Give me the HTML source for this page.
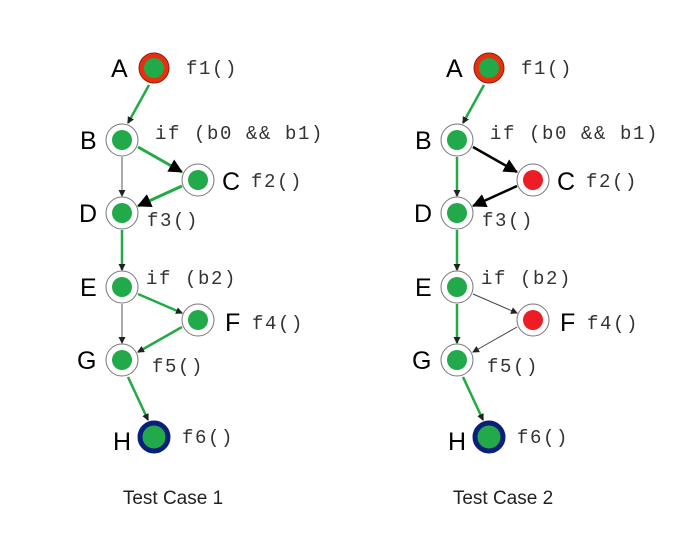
<!DOCTYPE html>
<html><head><meta charset="utf-8"><style>body{margin:0;background:#fff}</style></head><body>
<svg width="687" height="532" xmlns="http://www.w3.org/2000/svg">
<defs>
<marker id="s" markerWidth="7" markerHeight="7" refX="6" refY="3.5" orient="auto" markerUnits="userSpaceOnUse"><path d="M0,0 L7,3.5 L0,7 z" fill="#222"/></marker>
<marker id="K" markerWidth="14" markerHeight="14" refX="13" refY="7" orient="auto" markerUnits="userSpaceOnUse"><path d="M0,0 L14,7 L0,14 z" fill="#000"/></marker>
</defs>
<g font-family="Liberation Mono, monospace" font-size="19" letter-spacing="1.6" fill="#333">
<line x1="149" y1="85" x2="128" y2="123" stroke="#22aa44" stroke-width="2.5" marker-end="url(#s)"/>
<line x1="122" y1="157" x2="122" y2="196" stroke="#555" stroke-width="1" marker-end="url(#s)"/>
<line x1="138" y1="147" x2="182" y2="172" stroke="#22aa44" stroke-width="3" marker-end="url(#K)"/>
<line x1="182" y1="186" x2="138" y2="206" stroke="#22aa44" stroke-width="3" marker-end="url(#K)"/>
<line x1="122" y1="230" x2="122" y2="270" stroke="#22aa44" stroke-width="2.5" marker-end="url(#s)"/>
<line x1="122" y1="304" x2="122" y2="343" stroke="#555" stroke-width="1" marker-end="url(#s)"/>
<line x1="138" y1="294" x2="182" y2="313" stroke="#22aa44" stroke-width="2.5" marker-end="url(#s)"/>
<line x1="182" y1="327" x2="138" y2="352" stroke="#22aa44" stroke-width="2.5" marker-end="url(#s)"/>
<line x1="128" y1="377" x2="148" y2="420" stroke="#22aa44" stroke-width="2.5" marker-end="url(#s)"/>
<circle cx="154" cy="68" r="15" fill="#e8300f" stroke="#8a2010" stroke-width="1"/><circle cx="154" cy="68" r="10" fill="#22aa4a"/>
<circle cx="122" cy="140" r="16" fill="#fff" stroke="#777"/><circle cx="122" cy="140" r="10" fill="#22aa4a"/>
<circle cx="198" cy="180" r="16" fill="#fff" stroke="#777"/><circle cx="198" cy="180" r="10" fill="#22aa4a"/>
<circle cx="122" cy="213" r="16" fill="#fff" stroke="#777"/><circle cx="122" cy="213" r="10" fill="#22aa4a"/>
<circle cx="122" cy="287" r="16" fill="#fff" stroke="#777"/><circle cx="122" cy="287" r="10" fill="#22aa4a"/>
<circle cx="198" cy="320" r="16" fill="#fff" stroke="#777"/><circle cx="198" cy="320" r="10" fill="#22aa4a"/>
<circle cx="122" cy="360" r="16" fill="#fff" stroke="#777"/><circle cx="122" cy="360" r="10" fill="#22aa4a"/>
<circle cx="154" cy="437" r="14" fill="#22aa4a" stroke="#0a1f7a" stroke-width="5"/>
<g font-family="Liberation Sans, sans-serif" font-size="25" letter-spacing="0" fill="#000">
<text x="111" y="77">A</text><text x="80" y="149">B</text><text x="222" y="190">C</text><text x="79" y="222">D</text>
<text x="80" y="296">E</text><text x="225" y="331">F</text><text x="77" y="369">G</text><text x="113" y="450">H</text></g>
<text x="186" y="74">f1()</text><text x="155" y="139">if (b0 &amp;&amp; b1)</text><text x="251" y="187">f2()</text>
<text x="147" y="226">f3()</text><text x="146" y="284">if (b2)</text><text x="252" y="329">f4()</text>
<text x="152" y="372">f5()</text><text x="182" y="443">f6()</text>
</g>
<g transform="translate(335,0)" font-family="Liberation Mono, monospace" font-size="19" letter-spacing="1.6" fill="#333">
<line x1="149" y1="85" x2="128" y2="123" stroke="#22aa44" stroke-width="2.5" marker-end="url(#s)"/>
<line x1="122" y1="157" x2="122" y2="196" stroke="#22aa44" stroke-width="2.5" marker-end="url(#s)"/>
<line x1="138" y1="147" x2="182" y2="172" stroke="#000" stroke-width="2.5" marker-end="url(#K)"/>
<line x1="182" y1="186" x2="138" y2="206" stroke="#000" stroke-width="2.5" marker-end="url(#K)"/>
<line x1="122" y1="230" x2="122" y2="270" stroke="#22aa44" stroke-width="2.5" marker-end="url(#s)"/>
<line x1="122" y1="304" x2="122" y2="343" stroke="#22aa44" stroke-width="2.5" marker-end="url(#s)"/>
<line x1="138" y1="294" x2="182" y2="313" stroke="#444" stroke-width="1" marker-end="url(#s)"/>
<line x1="182" y1="327" x2="138" y2="352" stroke="#444" stroke-width="1" marker-end="url(#s)"/>
<line x1="128" y1="377" x2="148" y2="420" stroke="#22aa44" stroke-width="2.5" marker-end="url(#s)"/>
<circle cx="154" cy="68" r="15" fill="#e8300f" stroke="#8a2010" stroke-width="1"/><circle cx="154" cy="68" r="10" fill="#22aa4a"/>
<circle cx="122" cy="140" r="16" fill="#fff" stroke="#777"/><circle cx="122" cy="140" r="10" fill="#22aa4a"/>
<circle cx="198" cy="180" r="16" fill="#fff" stroke="#777"/><circle cx="198" cy="180" r="10" fill="#ee1c25"/>
<circle cx="122" cy="213" r="16" fill="#fff" stroke="#777"/><circle cx="122" cy="213" r="10" fill="#22aa4a"/>
<circle cx="122" cy="287" r="16" fill="#fff" stroke="#777"/><circle cx="122" cy="287" r="10" fill="#22aa4a"/>
<circle cx="198" cy="320" r="16" fill="#fff" stroke="#777"/><circle cx="198" cy="320" r="10" fill="#ee1c25"/>
<circle cx="122" cy="360" r="16" fill="#fff" stroke="#777"/><circle cx="122" cy="360" r="10" fill="#22aa4a"/>
<circle cx="154" cy="437" r="14" fill="#22aa4a" stroke="#0a1f7a" stroke-width="5"/>
<g font-family="Liberation Sans, sans-serif" font-size="25" letter-spacing="0" fill="#000">
<text x="111" y="77">A</text><text x="80" y="149">B</text><text x="222" y="190">C</text><text x="79" y="222">D</text>
<text x="80" y="296">E</text><text x="225" y="331">F</text><text x="77" y="369">G</text><text x="113" y="450">H</text></g>
<text x="186" y="74">f1()</text><text x="155" y="139">if (b0 &amp;&amp; b1)</text><text x="251" y="187">f2()</text>
<text x="147" y="226">f3()</text><text x="146" y="284">if (b2)</text><text x="252" y="329">f4()</text>
<text x="152" y="372">f5()</text><text x="182" y="443">f6()</text>
</g>
<g font-family="Liberation Sans, sans-serif" font-size="19" fill="#222" text-anchor="middle">
<text x="173" y="504">Test Case 1</text><text x="503" y="504">Test Case 2</text></g>
</svg>
</body></html>
